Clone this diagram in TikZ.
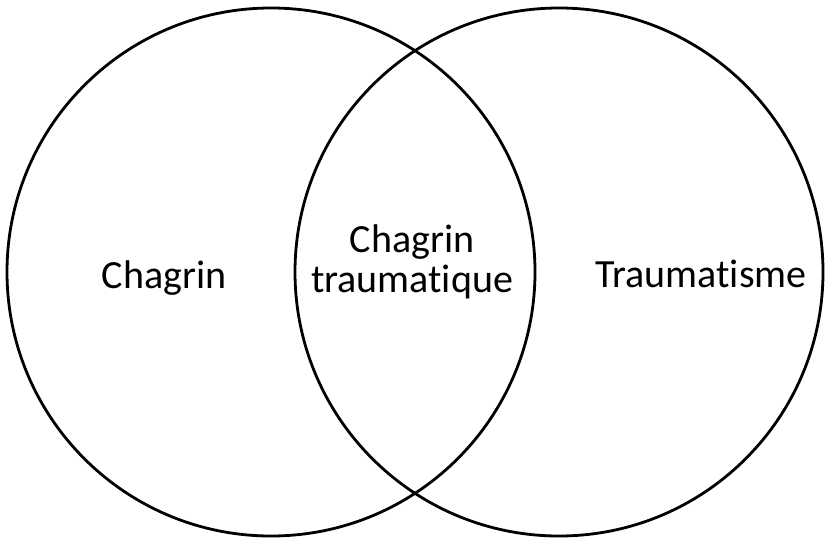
\documentclass[tikz,border=0pt]{standalone}
\usepackage{fontspec}
\setmainfont[Ligatures={NoCommon}]{Carlito}
\begin{document}
\begin{tikzpicture}[x=1pt,y=-1pt,
  ring/.style={draw=black,line width=2.8pt},
  lbl/.style={font=\fontsize{40}{41}\selectfont,inner sep=0pt,anchor=base}]
\useasboundingbox (0,0) rectangle (826,542);
\node[ring,circle,minimum size=528pt,inner sep=0pt] (L) at (271,272) {};
\node[ring,circle,minimum size=528pt,inner sep=0pt] (R) at (559,272) {};
\node[lbl] (a) at (164,288) {Chagrin};
\node[lbl] (b1) at (412,252) {Chagrin};
\node[lbl] (b2) at (412,292) {traumatique};
\node[lbl] (c) at (701,287) {Traumatisme};
\end{tikzpicture}
\end{document}
